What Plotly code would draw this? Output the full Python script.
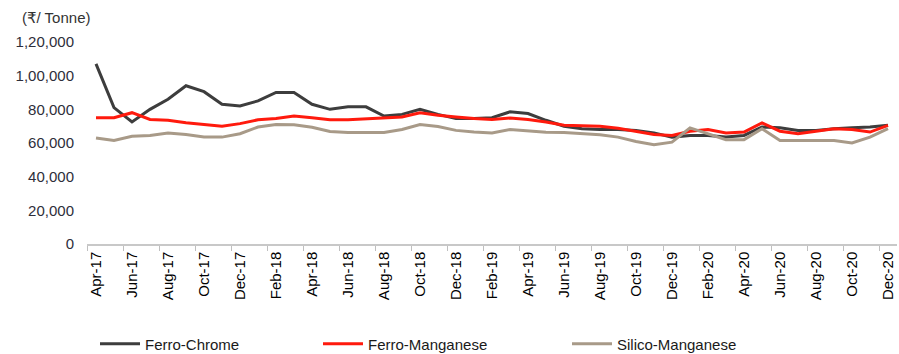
import plotly.graph_objects as go

# Monthly price series, Apr-17 .. Dec-20 (Rs per tonne)
months = [
    "Apr-17", "May-17", "Jun-17", "Jul-17", "Aug-17", "Sep-17", "Oct-17", "Nov-17", "Dec-17",
    "Jan-18", "Feb-18", "Mar-18", "Apr-18", "May-18", "Jun-18", "Jul-18", "Aug-18", "Sep-18",
    "Oct-18", "Nov-18", "Dec-18", "Jan-19", "Feb-19", "Mar-19", "Apr-19", "May-19", "Jun-19",
    "Jul-19", "Aug-19", "Sep-19", "Oct-19", "Nov-19", "Dec-19", "Jan-20", "Feb-20", "Mar-20",
    "Apr-20", "May-20", "Jun-20", "Jul-20", "Aug-20", "Sep-20", "Oct-20", "Nov-20", "Dec-20",
]

ferro_chrome = [
    107000, 81000, 72500, 80000, 86000, 94000, 90500, 83000, 82000,
    85000, 90000, 90000, 83000, 80000, 81500, 81500, 76000, 77000,
    80000, 77000, 74500, 74500, 75000, 78500, 77500, 73500, 70000,
    68500, 68000, 68000, 67500, 66000, 63500, 64500, 64500, 63500,
    64500, 69500, 69000, 67500, 67500, 68500, 69000, 69500, 70500,
]

ferro_manganese = [
    75000, 75000, 78000, 74000, 73500, 72000, 71000, 70000, 71500,
    73800, 74500, 76000, 75000, 73800, 73800, 74400, 74800, 75400,
    78000, 76500, 75500, 74500, 74000, 74800, 74000, 72500, 70500,
    70400, 70000, 68800, 67000, 65000, 64500, 67000, 68000, 66000,
    66500, 72000, 67000, 65500, 67000, 68500, 68000, 66500, 70500,
]

silico_manganese = [
    63000, 61500, 64000, 64500, 66000, 65000, 63500, 63500, 65500,
    69500, 71000, 70800, 69300, 66800, 66300, 66300, 66300, 68000,
    71000, 69800, 67500, 66500, 66000, 68000, 67300, 66400, 66200,
    65500, 64900, 63500, 60900, 59000, 60500, 69000, 65500, 62000,
    62000, 68500, 61500, 61500, 61500, 61500, 60000, 63500, 68500,
]

y_ticks = [0, 20000, 40000, 60000, 80000, 100000, 120000]
y_tick_text = ["0", "20,000", "40,000", "60,000", "80,000", "1,00,000", "1,20,000"]

FONT = "Arial, 'Liberation Sans', 'DejaVu Sans', sans-serif"
W, H = 899, 354
L, R, T, B = 87, 2, 42, 110

series = [
    ("Ferro-Chrome", ferro_chrome, "#3d3d3d", "legend", 95),
    ("Ferro-Manganese", ferro_manganese, "#ff1a0d", "legend2", 318),
    ("Silico-Manganese", silico_manganese, "#a89a88", "legend3", 567),
]

fig = go.Figure()
for name, vals, color, leg, _ in series:
    fig.add_trace(go.Scatter(
        x=months, y=vals, name=name, mode="lines",
        line=dict(color=color, width=3),
        legend=leg, showlegend=True,
    ))

legend_cfg = {}
for name, vals, color, leg, px in series:
    legend_cfg[leg] = dict(
        xref="container", yref="container",
        x=px / W, xanchor="left",
        y=1 - 344 / H, yanchor="middle",
        orientation="h",
        font=dict(family=FONT, size=15, color="#1a1a1a"),
        bgcolor="rgba(0,0,0,0)", borderwidth=0,
        itemwidth=40,
    )

fig.update_layout(
    width=W, height=H,
    showlegend=True,
    margin=dict(l=L, r=R, t=T, b=B, autoexpand=False),
    paper_bgcolor="white", plot_bgcolor="white",
    font=dict(family=FONT, size=15, color="#1a1a1a"),
    title=dict(
        text="(₹/ Tonne)", font=dict(family=FONT, size=15, color="#333333"),
        xref="container", yref="container",
        x=22 / W, xanchor="left", y=1 - 18 / H, yanchor="middle",
    ),
    xaxis=dict(
        type="category", categoryorder="array", categoryarray=months,
        range=[-0.5, len(months) - 0.5],
        tickson="boundaries", dtick=2,
        ticks="outside", ticklen=5, tickcolor="#bfbfbf", tickwidth=1,
        showline=True, linecolor="#c8c8c8", linewidth=1.5,
        showgrid=False, zeroline=False, automargin=False,
        tickangle=-90,
        tickfont=dict(family=FONT, size=15, color="#000000"),
    ),
    yaxis=dict(
        range=[0, 120000],
        tickmode="array", tickvals=y_ticks, ticktext=y_tick_text,
        showline=False, showgrid=False, zeroline=False, automargin=False,
        ticks="", ticklabelstandoff=12,
        tickfont=dict(family=FONT, size=15, color="#2e2e3a"),
    ),
    **legend_cfg,
)

fig.write_html("out.html")
